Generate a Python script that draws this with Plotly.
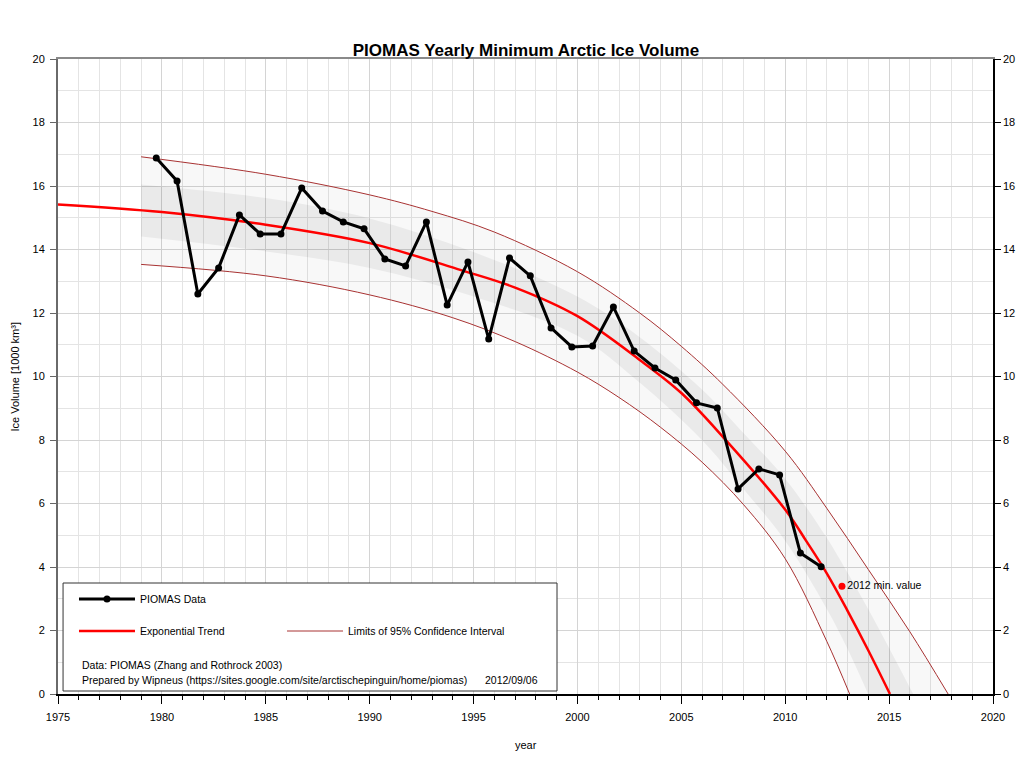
import plotly.graph_objects as go

# PIOMAS September minimum volume [1000 km3]
years = list(range(1979, 2012))
volume = [16.88, 16.16, 12.60, 13.42, 15.09, 14.49, 14.49, 15.94, 15.21, 14.87,
          14.65, 13.70, 13.48, 14.87, 12.25, 13.61, 11.18, 13.73, 13.17, 11.53,
          10.93, 10.96, 12.19, 10.80, 10.27, 9.89, 9.17, 9.01, 6.46, 7.09,
          6.90, 4.44, 4.01]
min_2012_year = 2012
min_2012_value = 3.39
SEPT = 0.73  # the minimum falls around mid september

# exponential trend
trend_x = [1975, 1980, 1985, 1990, 1994.4, 1997, 2000, 2003, 2005, 2007, 2010.1,
           2011, 2012, 2013, 2014, 2015.04]
trend_y = [15.42, 15.18, 14.78, 14.20, 13.35, 12.80, 11.90, 10.52, 9.48, 8.10, 5.72,
           4.83, 3.80, 2.62, 1.37, 0.0]

# limits of the 95% confidence interval (the thin dark red lines)
upper_x = [1979, 1985, 1990, 1993, 1996, 2000, 2003, 2005, 2007, 2010,
           2012, 2014, 2016, 2017.84]
upper_y = [16.92, 16.37, 15.72, 15.20, 14.55, 13.30, 12.00, 10.95, 9.75, 7.65,
           5.85, 3.92, 1.96, 0.0]
lower_x = [1979, 1985, 1990, 1994, 1997, 2000, 2002, 2004, 2006, 2008,
           2010, 2012, 2013.1]
lower_y = [13.53, 13.17, 12.57, 11.85, 11.10, 10.14, 9.34, 8.40, 7.30, 5.96,
           4.26, 1.66, 0.0]

# inner (darker) band around the trend
band_x = [1979, 1985, 1990, 1995, 2000, 2003, 2006, 2008, 2010, 2012, 2013]
band_hi = [16.05, 15.62, 14.98, 13.92, 12.52, 11.24, 9.59, 8.21, 6.78, 4.92, 3.82]
band_lo = [14.41, 13.94, 13.42, 12.52, 11.28, 9.80, 7.99, 6.45, 4.82, 2.68, 1.42]
band_hi_end_x = [2014, 2015, 2016.16]
band_hi_end_y = [2.67, 1.45, 0.0]
band_lo_end_x = [2013.99]
band_lo_end_y = [0.0]

FONT = "Liberation Sans, Arial, sans-serif"
LIMIT_RED = "#a83232"

fig = go.Figure()

# light outer band between the limits
fig.add_trace(go.Scatter(x=lower_x, y=lower_y, mode="lines", line=dict(color=LIMIT_RED, width=1, shape="spline"),
                         showlegend=False, hoverinfo="skip"))
fig.add_trace(go.Scatter(x=upper_x, y=upper_y, mode="lines", line=dict(color=LIMIT_RED, width=1, shape="spline"),
                         fill="tonexty", fillcolor="rgba(0,0,0,0.028)", showlegend=False, hoverinfo="skip"))

# darker inner band
fig.add_trace(go.Scatter(x=band_x + band_lo_end_x, y=band_lo + band_lo_end_y,
                         mode="lines", line=dict(width=0, shape="spline"), showlegend=False, hoverinfo="skip"))
fig.add_trace(go.Scatter(x=band_x + band_hi_end_x, y=band_hi + band_hi_end_y,
                         mode="lines", line=dict(width=0, shape="spline"), fill="tonexty",
                         fillcolor="rgba(0,0,0,0.055)", showlegend=False, hoverinfo="skip"))

fig.add_trace(go.Scatter(x=trend_x, y=trend_y, mode="lines", name="Exponential Trend",
                         line=dict(color="#ff0000", width=2.5, shape="spline"), legend="legend2"))

fig.add_trace(go.Scatter(x=[y + SEPT for y in years], y=volume, mode="lines+markers", name="PIOMAS Data",
                         line=dict(color="black", width=3), marker=dict(color="black", size=7), legend="legend"))

fig.add_trace(go.Scatter(x=[min_2012_year + SEPT], y=[min_2012_value], mode="markers+text",
                         text=["2012 min. value"], textposition="middle right",
                         textfont=dict(size=10.5, color="black", family=FONT),
                         marker=dict(color="#ff0000", size=7), showlegend=False))

# legend-only entry for the limit lines
fig.add_trace(go.Scatter(x=[None], y=[None], mode="lines", name="Limits of 95% Confidence Interval",
                         line=dict(color=LIMIT_RED, width=1), legend="legend3"))

legend_style = dict(bgcolor="rgba(0,0,0,0)", borderwidth=0, itemwidth=56, xanchor="left", yanchor="middle",
                    font=dict(size=10.5, family=FONT, color="black"))

# page body has an 8px margin on the left/top
fig.update_layout(
    width=1016, height=752,
    margin=dict(l=50, r=31, t=51, b=66, autoexpand=False),
    paper_bgcolor="white", plot_bgcolor="white",
    font=dict(family=FONT, size=11, color="black"),
    title=dict(text="<b>PIOMAS Yearly Minimum Arctic Ice Volume</b>", x=0.5098, xanchor="center",
               y=0.944, yanchor="middle", font=dict(size=17, family=FONT)),
    legend=dict(x=0.0171, y=0.1496, **legend_style),
    legend2=dict(x=0.0171, y=0.0992, **legend_style),
    legend3=dict(x=0.2396, y=0.0992, **legend_style),
    xaxis=dict(range=[1975, 2020], dtick=5, tick0=1975, ticks="outside", ticklen=8, tickcolor="black",
               showline=True, linecolor="black", linewidth=1.5, showgrid=True, gridcolor="#d4d4d4",
               zeroline=False, tickfont=dict(size=11), ticklabelstandoff=4, automargin=False,
               minor=dict(dtick=1, ticks="outside", ticklen=4, tickcolor="black", showgrid=True, gridcolor="#e4e4e4")),
    xaxis2=dict(range=[1975, 2020], overlaying="x", side="top", showline=True, linecolor="#8a8a8a", linewidth=2,
                showticklabels=False, ticks="", showgrid=False, zeroline=False, automargin=False),
    yaxis=dict(range=[0, 20], dtick=2, ticks="outside", ticklen=6, tickcolor="#666666",
               showline=True, linecolor="#6a6a6a", linewidth=2, showgrid=True, gridcolor="#d4d4d4",
               zeroline=False, tickfont=dict(size=11), ticklabelstandoff=3, automargin=False,
               minor=dict(dtick=1, showgrid=True, gridcolor="#e4e4e4")),
    yaxis2=dict(range=[0, 20], dtick=2, overlaying="y", side="right", ticks="outside", ticklen=6,
                tickcolor="black", showline=True, linecolor="black", linewidth=1.5, showgrid=False,
                zeroline=False, tickfont=dict(size=11), ticklabelstandoff=0, automargin=False),
)

# dummy trace so the right axis and the top axis are drawn
fig.add_trace(go.Scatter(x=[None], y=[None], xaxis="x2", yaxis="y2", showlegend=False))

# axis titles
fig.add_annotation(text="Ice Volume [1000 km³]", xref="paper", yref="paper", x=-0.046, y=0.5,
                   textangle=-90, xanchor="center", yanchor="middle", showarrow=False, font=dict(size=11))
fig.add_annotation(text="year", xref="paper", yref="paper", x=0.5, y=-0.0803,
                   xanchor="center", yanchor="middle", showarrow=False, font=dict(size=11))

# legend frame
fig.add_shape(type="rect", xref="paper", yref="paper", x0=0.0054, x1=0.5337, y0=0.0047, y1=0.1748,
              line=dict(color="#333333", width=1), fillcolor="white", layer="above")

fig.add_annotation(text="Data: PIOMAS (Zhang and Rothrock 2003)", xref="paper", yref="paper",
                   x=0.0235, y=0.0457, xanchor="left", yanchor="middle", showarrow=False, font=dict(size=10.5))
fig.add_annotation(text="Prepared by Wipneus (https://sites.google.com/site/arctischepinguin/home/piomas)",
                   xref="paper", yref="paper", x=0.0235, y=0.0222, xanchor="left", yanchor="middle",
                   showarrow=False, font=dict(size=10.5))
fig.add_annotation(text="2012/09/06", xref="paper", yref="paper", x=0.4545, y=0.0222, xanchor="left",
                   yanchor="middle", showarrow=False, font=dict(size=10.5))

fig.write_html("out.html")
